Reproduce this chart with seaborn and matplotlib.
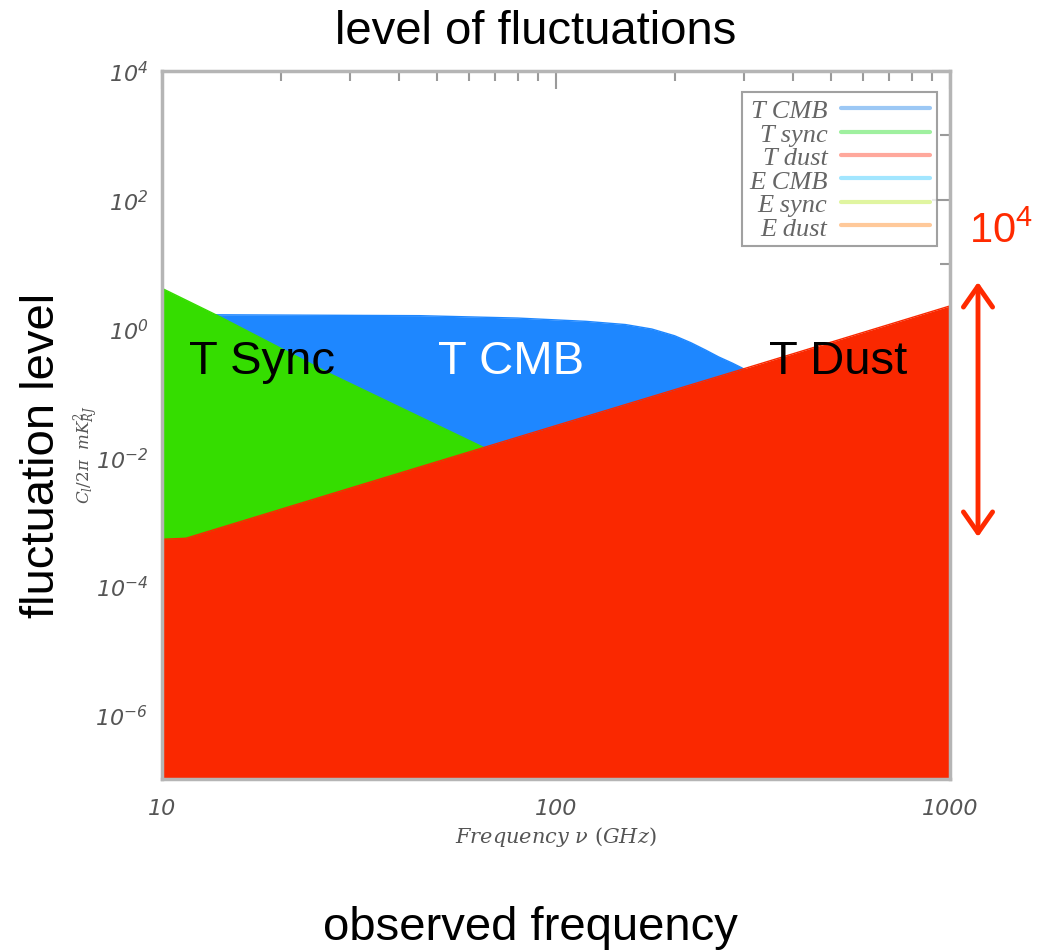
import matplotlib
matplotlib.use("Agg")
import numpy as np
import pandas as pd
import seaborn as sns
import matplotlib.pyplot as plt
from matplotlib.lines import Line2D
from matplotlib.patches import FancyArrowPatch
from matplotlib.ticker import FixedLocator, NullFormatter

# ---- data ----
freq_cmb = [10, 14, 45, 80, 119, 150, 175, 200, 220, 240, 259, 280, 296, 400, 600, 1000]
t_cmb = [1.66, 1.63, 1.58, 1.45, 1.29, 1.15, 0.98, 0.77, 0.60, 0.46, 0.36, 0.29, 0.245,
         0.08, 0.008, 1e-4]

freq_sync = [10, 14, 26.6, 65, 100, 1000]
t_sync = [4.2, 1.53, 0.2, 0.0145, 0.0042, 4.2e-6]

freq_dust = [10, 11.5, 30, 100, 300, 1000]
t_dust = [5.3e-4, 5.5e-4, 3.3e-3, 0.031, 0.237, 2.24]

legend_labels = ["T CMB", "T sync", "T dust", "E CMB", "E sync", "E dust"]
legend_colors = ["#9cc8f5", "#9ff09f", "#ffa89c", "#a2e6ff", "#e0f5a0", "#ffc99a"]

x_ticks = [10, 100, 1000]
x_tick_labels = ["10", "100", "1000"]
y_ticks = [1e-6, 1e-4, 1e-2, 1e0, 1e2, 1e4]
y_tick_labels = ["-6", "-4", "-2", "0", "2", "4"]

fill_colors = {"cmb": "#1e87ff", "sync": "#35dd00", "dust": "#fa2800"}

# ---- figure ----
sns.set_theme(style="white")
plt.rcParams["font.family"] = ["Liberation Sans", "DejaVu Sans"]

W, H = 1060, 953
fig = plt.figure(figsize=(W / 100, H / 100), dpi=100)
ax = fig.add_axes([162 / W, (H - 780) / H, (950 - 162) / W, (780 - 72) / H])
ax.set_xscale("log")
ax.set_yscale("log")

series = [
    ("cmb", freq_cmb, t_cmb, 1),
    ("sync", freq_sync, t_sync, 2),
    ("dust", freq_dust, t_dust, 3),
]
for key, fx, fy, z in series:
    df = pd.DataFrame({"f": fx, "v": fy})
    sns.lineplot(data=df, x="f", y="v", ax=ax, color=fill_colors[key], lw=1.0,
                 zorder=z + 0.5, sort=True)
    ax.fill_between(df["f"], df["v"], 1e-9, color=fill_colors[key], lw=0, zorder=z)

ax.set_xlim(10, 1000)
ax.set_ylim(1e-7, 1e4)

# ticks
ax.xaxis.set_major_locator(FixedLocator(x_ticks))
ax.xaxis.set_minor_locator(FixedLocator([m * d for d in (10, 100) for m in range(2, 10)]))
ax.xaxis.set_minor_formatter(NullFormatter())
ax.set_xticklabels(x_tick_labels)
ax.yaxis.set_major_locator(FixedLocator(y_ticks))
ax.yaxis.set_minor_locator(FixedLocator([10.0 ** k for k in (-7, -5, -3, -1, 1, 3)]))
ax.yaxis.set_minor_formatter(NullFormatter())
ax.set_yticklabels([r"$\mathregular{10^{%s}}$" % s for s in y_tick_labels])
for lab in ax.get_xticklabels() + ax.get_yticklabels():
    lab.set_fontfamily("DejaVu Sans")
    lab.set_fontstyle("italic")
    lab.set_fontsize(16)
    lab.set_color("#555555")

ax.tick_params(which="both", direction="in", top=True, right=True,
               color="#9a9a9a", width=1.5)
ax.tick_params(which="major", length=13)
ax.tick_params(which="minor", length=7)
ax.tick_params(axis="x", pad=14)
ax.tick_params(axis="y", pad=10)
for sp in ax.spines.values():
    sp.set_color("#b5b5b5")
    sp.set_linewidth(2.5)
    sp.set_zorder(10)
ax.set_facecolor("white")

ax.set_xlabel(r"$\mathit{Frequency\ \nu\ (GHz)}$", fontsize=15, color="#555555",
              math_fontfamily="dejavuserif", labelpad=4)
ax.set_ylabel("")
ax.grid(False)

# legend
handles = [Line2D([0], [0], color=c, lw=3) for c in legend_colors]
leg = ax.legend(handles, legend_labels, loc="upper right",
                bbox_to_anchor=(0.9835, 0.970), borderaxespad=0,
                markerfirst=False, frameon=True, fancybox=False,
                prop={"family": "Liberation Serif", "style": "italic", "size": 19},
                labelspacing=0.0, handlelength=3.4, handletextpad=0.5,
                borderpad=0.25)
leg.get_frame().set_edgecolor("#8a8a8a")
leg.get_frame().set_linewidth(1.5)
for t in leg.get_texts():
    t.set_color("#666666")
leg.set_zorder(20)

# y label of the original plot
fig.text(86 / W, 1 - 455 / H, r"$C_l/2\pi\ \ mK_{RJ}^2$", rotation=90,
         ha="center", va="center", fontsize=12, color="#555555",
         math_fontfamily="dejavuserif")

# annotations inside the plot
fig.text(262 / W, 1 - 362 / H, "T Sync", fontsize=34, color="black",
         ha="center", va="center", zorder=30)
fig.text(511 / W, 1 - 362 / H, "T CMB", fontsize=34, color="white",
         ha="center", va="center", zorder=30)
fig.text(838 / W, 1 - 362 / H, "T Dust", fontsize=34, color="black",
         ha="center", va="center", zorder=30)

# slide labels
fig.text(536 / W, 1 - 32 / H, "level of fluctuations", fontsize=34,
         ha="center", va="center", color="black")
fig.text(530 / W, 1 - 928 / H, "observed frequency", fontsize=34,
         ha="center", va="center", color="black")
fig.text(42 / W, 1 - 455 / H, "fluctuation level", fontsize=34, rotation=90,
         ha="center", va="center", color="black")

# red 10^4 and double arrow
fig.text(1001 / W, 1 - 232 / H, r"$\mathregular{10^4}$", fontsize=30,
         ha="center", va="center", color="#ff2a00")
arrow = FancyArrowPatch((978 / W, 1 - 283 / H), (978 / W, 1 - 538 / H),
                        transform=fig.transFigure,
                        arrowstyle="<->,head_length=1.0,head_width=0.7",
                        mutation_scale=15, lw=3.5, color="#ff2a00",
                        shrinkA=0, shrinkB=0)
fig.patches.append(arrow)

fig.savefig("out.png", dpi=100)
